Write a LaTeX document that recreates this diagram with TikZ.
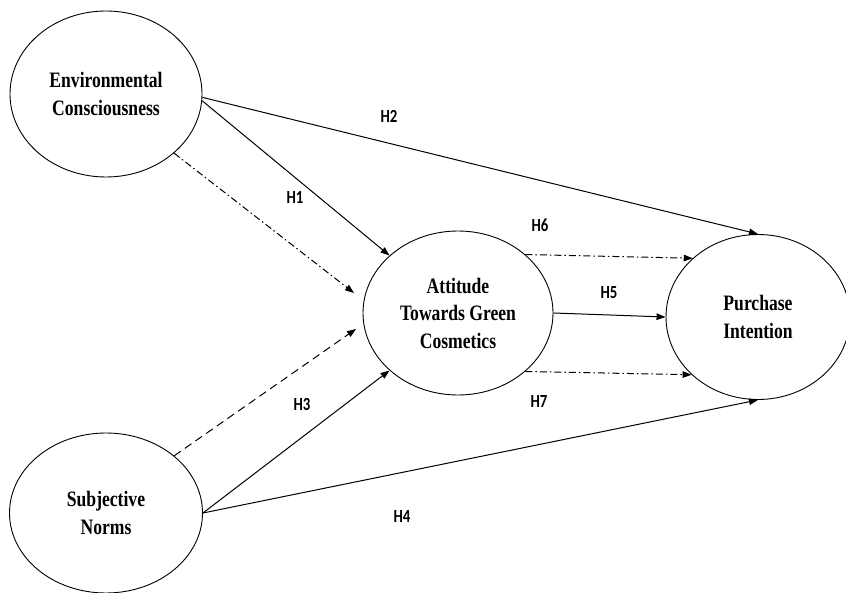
\documentclass[tikz,border=0pt]{standalone}
\usepackage{fontspec}
\usetikzlibrary{shapes.geometric,arrows.meta}
\newfontfamily\nodefont[FakeStretch=0.8]{Liberation Serif}
\newfontfamily\labfont[FakeStretch=0.8]{Carlito}
\tikzset{
  construct/.style={ellipse, draw, line width=0.9pt, inner sep=0pt, align=center,
    font=\nodefont\bfseries\fontsize{22}{27.5}\selectfont},
  hlabel/.style={font=\labfont\bfseries\fontsize{18.5}{20}\selectfont, inner sep=0pt},
  path/.style={line width=1pt, -{Triangle[length=9pt,width=6.5pt]}},
  dashdot/.style={dash pattern=on 7pt off 3pt on 1.5pt off 3pt},
  dashline/.style={dash pattern=on 8pt off 5pt}
}
\begin{document}
\begin{tikzpicture}[x=1pt,y=-1pt]
\useasboundingbox (0,0) rectangle (846,593);
\node[construct, minimum width=192pt, minimum height=166pt] (EC) at (106,94) {Environmental\\Consciousness};
\node[construct, minimum width=193pt, minimum height=160pt] (SN) at (106,513) {Subjective\\Norms};
\node[construct, minimum width=190pt, minimum height=164pt] (AT) at (458,313) {Attitude\\Towards Green\\Cosmetics};
\node[construct, minimum width=184pt, minimum height=165pt] (PI) at (758,317) {Purchase\\Intention};

\coordinate (ecdd) at (354,293);
\coordinate (sndd) at (356,329);

\draw[path] (EC.-2) -- (PI.north);
\draw[path] (EC.-4) -- (AT.140);
\draw[path, dashdot] (EC.-41) -- (ecdd);
\draw[path, dashline] (SN.40) -- (sndd);
\draw[path] (SN.east) -- (AT.220);
\draw[path] (SN.east) -- (PI.south);
\draw[path] (AT.east) -- (PI.west);
\draw[path, dashdot] (AT.41) -- (PI.138);
\draw[path, dashdot] (AT.-41) -- (PI.-139);

\node[hlabel] (h2) at (389,116) {H2};
\node[hlabel] (h1) at (295,197) {H1};
\node[hlabel] (h6) at (540,225) {H6};
\node[hlabel] (h5) at (609,293) {H5};
\node[hlabel] (h3) at (302,404) {H3};
\node[hlabel] (h7) at (539,402) {H7};
\node[hlabel] (h4) at (402,516) {H4};
\end{tikzpicture}
\end{document}
